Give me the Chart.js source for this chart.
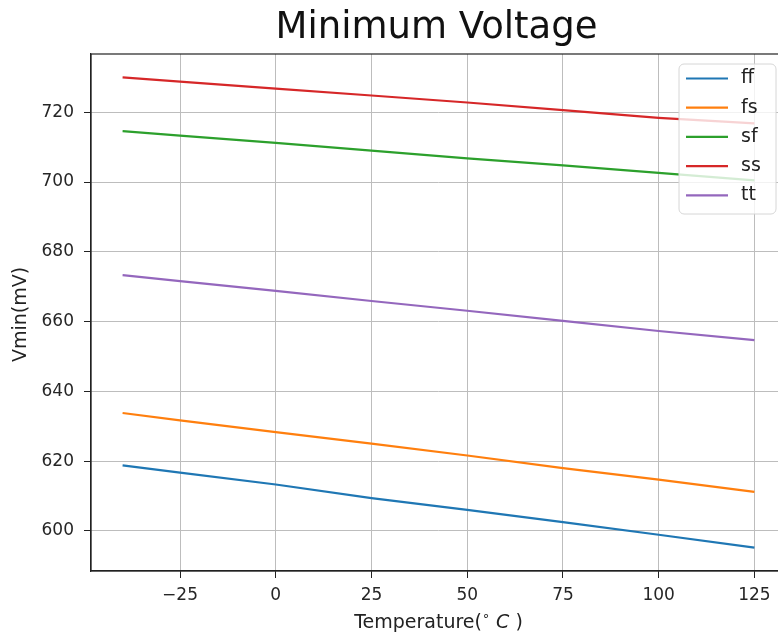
<!DOCTYPE html>
<html>
<head>
<meta charset="utf-8">
<script src="https://cdn.jsdelivr.net/npm/chart.js@4.4.1/dist/chart.umd.min.js"></script>
<style>
  html, body { margin: 0; padding: 0; overflow: hidden; background: #fff; }
  #wrap { width: 790px; height: 637px; }
</style>
</head>
<body>
<div id="wrap"><canvas id="c" width="790" height="637"></canvas></div>
<script>
// temperatures (°C) and Vmin per corner (mV)
const temps = [-40, -25, 0, 25, 50, 75, 100, 125];
const ff = [618.8, 616.7, 613.3, 609.4, 606.0, 602.5, 598.9, 595.2];
const fs = [633.8, 631.7, 628.3, 625.0, 621.6, 618.0, 614.7, 611.2];
const sf = [714.6, 713.3, 711.2, 709.0, 706.8, 704.8, 702.6, 700.5];
const ss = [730.0, 728.8, 726.8, 724.8, 722.8, 720.6, 718.4, 716.8];
const tt = [673.3, 671.6, 668.8, 665.9, 663.1, 660.2, 657.3, 654.7];
const xTicks = [-25, 0, 25, 50, 75, 100, 125];
const yTicks = [600, 620, 640, 660, 680, 700, 720];

const corners = ['ff', 'fs', 'sf', 'ss', 'tt'];
const series = [ff, fs, sf, ss, tt];
const colors = ['#1f77b4', '#ff7f0e', '#2ca02c', '#d62728', '#9467bd'];

const FONT = 'DejaVu Sans';

// title, axis labels, frame and legend drawn on top
const extras = {
  id: 'extras',
  afterDraw(chart) {
    const ctx = chart.ctx;
    const ca = chart.chartArea;
    ctx.save();

    // frame
    ctx.strokeStyle = '#222';
    ctx.lineWidth = 1.2;
    ctx.strokeRect(ca.left, ca.top, ca.right - ca.left, ca.bottom - ca.top);

    // title
    const cx = (ca.left + ca.right) / 2;
    ctx.fillStyle = '#111';
    ctx.font = '37px ' + FONT;
    ctx.textAlign = 'center';
    ctx.textBaseline = 'middle';
    ctx.fillText('Minimum Voltage', cx - 2, 28);

    // y label
    ctx.save();
    ctx.translate(21, (ca.top + ca.bottom) / 2 + 2);
    ctx.rotate(-Math.PI / 2);
    ctx.font = '19px ' + FONT;
    ctx.fillStyle = '#222';
    ctx.fillText('Vmin(mV)', 0, 0);
    ctx.restore();

    // x label: Temperature(°C )
    const parts = [
      { t: 'Temperature(', f: '19px ' + FONT, dy: 0 },
      { t: '\u2218', f: '13px ' + FONT, dy: -8 },
      { t: ' ', f: '19px ' + FONT, dy: 0 },
      { t: 'C', f: 'italic 19px ' + FONT, dy: 0 },
      { t: ' )', f: '19px ' + FONT, dy: 0 }
    ];
    let total = 0;
    parts.forEach(p => { ctx.font = p.f; p.w = ctx.measureText(p.t).width; total += p.w; });
    let x = cx - total / 2;
    ctx.textAlign = 'left';
    ctx.textBaseline = 'alphabetic';
    ctx.fillStyle = '#222';
    parts.forEach(p => { ctx.font = p.f; ctx.fillText(p.t, x, 628 + p.dy); x += p.w; });

    // legend
    const lx = 679, ly = 64, lw = 97, lh = 150, r = 5;
    ctx.beginPath();
    ctx.moveTo(lx + r, ly);
    ctx.arcTo(lx + lw, ly, lx + lw, ly + lh, r);
    ctx.arcTo(lx + lw, ly + lh, lx, ly + lh, r);
    ctx.arcTo(lx, ly + lh, lx, ly, r);
    ctx.arcTo(lx, ly, lx + lw, ly, r);
    ctx.closePath();
    ctx.fillStyle = 'rgba(255,255,255,0.8)';
    ctx.fill();
    ctx.strokeStyle = '#d6d6d6';
    ctx.lineWidth = 1;
    ctx.stroke();

    ctx.font = '19px ' + FONT;
    ctx.textBaseline = 'middle';
    chart.data.datasets.forEach((ds, i) => {
      const y = 78.5 + i * 29.2;
      ctx.strokeStyle = ds.borderColor;
      ctx.lineWidth = 2.2;
      ctx.beginPath();
      ctx.moveTo(686, y);
      ctx.lineTo(728, y);
      ctx.stroke();
      ctx.fillStyle = '#222';
      ctx.fillText(ds.label, 741, y);
    });

    ctx.restore();
  }
};

const gridCfg = { color: '#bdbdbd', lineWidth: 1, tickLength: 7, tickColor: '#222' };

new Chart(document.getElementById('c'), {
  type: 'line',
  data: {
    datasets: corners.map((name, i) => ({
      label: name,
      data: temps.map((t, j) => ({ x: t, y: series[i][j] })),
      borderColor: colors[i],
      backgroundColor: colors[i],
      borderWidth: 2.2,
      pointRadius: 0,
      tension: 0,
      fill: false
    }))
  },
  options: {
    responsive: false,
    animation: false,
    layout: { padding: { top: 54, right: 4, left: 0, bottom: 0 } },
    plugins: { legend: { display: false }, title: { display: false }, tooltip: { enabled: false } },
    scales: {
      x: {
        type: 'linear',
        min: -48.25,
        max: 133.25,
        afterBuildTicks: s => { s.ticks = xTicks.map(v => ({ value: v })); },
        afterFit: s => { s.height = 66; },
        grid: gridCfg,
        border: { color: '#222', width: 1.2 },
        ticks: {
          font: { family: FONT, size: 17 },
          color: '#262626',
          padding: 7,
          maxRotation: 0,
          autoSkip: false,
          callback: v => String(v).replace('-', '\u2212')
        }
      },
      y: {
        type: 'linear',
        min: 588.5,
        max: 736.7,
        afterBuildTicks: s => { s.ticks = yTicks.map(v => ({ value: v })); },
        afterFit: s => { s.width = 91; },
        grid: gridCfg,
        border: { color: '#222', width: 1.2 },
        ticks: {
          font: { family: FONT, size: 17 },
          color: '#262626',
          padding: 10,
          autoSkip: false
        }
      }
    }
  },
  plugins: [extras]
});
</script>
</body>
</html>
